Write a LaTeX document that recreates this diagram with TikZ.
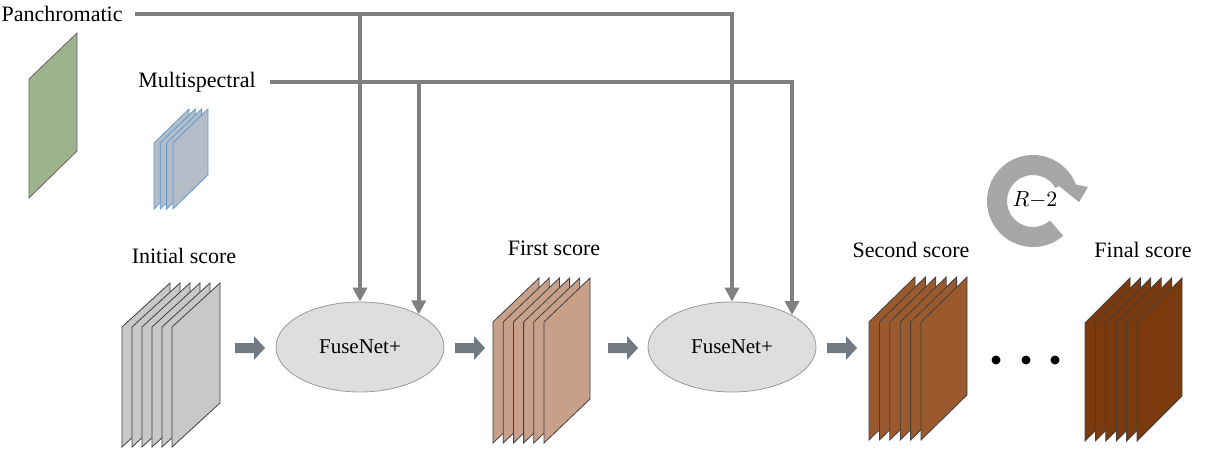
\documentclass[tikz,border=0pt]{standalone}
\usepackage{fontspec}
\setmainfont{Liberation Serif}
\usetikzlibrary{arrows.meta,shapes,positioning}

\definecolor{linegray}{HTML}{808080}
\definecolor{ellfill}{HTML}{DEDEDE}
\definecolor{elldraw}{HTML}{9A9A9A}
\definecolor{blockgray}{HTML}{737980}
\definecolor{ringgray}{HTML}{A6A6A6}
\definecolor{panfill}{HTML}{9CB38E}
\definecolor{msfill}{HTML}{B4BCC8}
\definecolor{msdraw}{HTML}{5B9BD5}
\definecolor{initfill}{HTML}{C8C8C8}
\definecolor{firstfill}{HTML}{C8A08A}
\definecolor{secondfill}{HTML}{9B5A2D}
\definecolor{finalfill}{HTML}{7B3A0E}

\begin{document}
\begin{tikzpicture}[x=0.5pt, y=-0.5pt, semithick,
  feed/.style = {draw=linegray, line width=2pt, -{Triangle[width=7pt, length=7pt]}},
  fuse/.style = {ellipse, draw=elldraw, fill=ellfill, thin, minimum width=84pt, minimum height=45pt, inner sep=0pt, font=\rmfamily\fontsize{10.5}{12}\selectfont},
  caption/.style = {inner sep=0pt, font=\rmfamily\fontsize{11}{13}\selectfont},
  blockarrow/.pic = {\fill[blockgray] (-15,-5) -- (4,-5) -- (4,-12) -- (15,0) -- (4,12) -- (4,5) -- (-15,5) -- cycle;},
  sheet/.style = {draw=black!75, thin}]
\useasboundingbox (0,0) rectangle (1205,449);

% inputs
\node[caption, anchor=west] (pan) at (1,14) {Panchromatic};
\node[caption] (ms) at (197,82) {Multispectral};
\draw[sheet, fill=panfill, draw=black!60] (29,198) -- ++(0,-119) -- ++(48,-46) -- ++(0,118) -- cycle;
\foreach \i in {0,...,3}
  \draw[thin, fill=msfill, draw=msdraw] ({154+6.3*\i},209) -- ++(0,-66) -- ++(35,-34) -- ++(0,66) -- cycle;

% score stacks
\node[caption] (initial) at (184,256) {Initial score};
\foreach \i in {0,...,5}
  \draw[sheet, fill=initfill] ({122+10*\i},447) -- ++(0,-120) -- ++(48,-44) -- ++(0,120) -- cycle;
\node[caption] (first) at (554,248) {First score};
\foreach \i in {0,...,5}
  \draw[sheet, fill=firstfill] ({493+10.2*\i},443) -- ++(0,-121) -- ++(46,-44) -- ++(0,121) -- cycle;
\node[caption] (second) at (911,250) {Second score};
\foreach \i in {0,...,5}
  \draw[sheet, fill=secondfill] ({869+10.4*\i},440) -- ++(0,-118) -- ++(46,-45) -- ++(0,118) -- cycle;
\node[caption] (final) at (1143,250) {Final score};
\foreach \i in {0,...,5}
  \draw[sheet, fill=finalfill] ({1085+10.4*\i},441) -- ++(0,-118) -- ++(45,-45) -- ++(0,118) -- cycle;

% fusion nodes
\node[fuse] (fuse1) at (360,347) {FuseNet+};
\node[fuse] (fuse2) at (732,347) {FuseNet+};

\pic at (250,348) {blockarrow};
\pic at (470,348) {blockarrow};
\pic at (623,348) {blockarrow};
\pic at (842,348) {blockarrow};

% feeds
\draw[feed] ([xshift=6pt]pan.east) -| (fuse2.north);
\draw[feed] (pan.east -| fuse1.north) -- (fuse1.north);
\draw[feed] ([xshift=7pt]ms.east) -| (fuse2.28);
\draw[feed] (ms.east -| fuse1.29) -- (fuse1.29);

% repeat
\foreach \x in {996,1026,1055}
  \fill (\x,360) circle (4.5);
\begin{scope}[shift={(1033,201)}, x=0.5pt, y=0.5pt]
\fill[ringgray] (-49:46) arc[start angle=-49, end angle=-339, radius=46] -- (55,14) -- (46,-1) -- (26,15) -- (30:26) arc[start angle=-330, end angle=-49, radius=26] -- cycle;
\node (loop) at (2,1) {\fontsize{10.5}{12}\selectfont$R{-}2$};
\end{scope}
\end{tikzpicture}
\end{document}
